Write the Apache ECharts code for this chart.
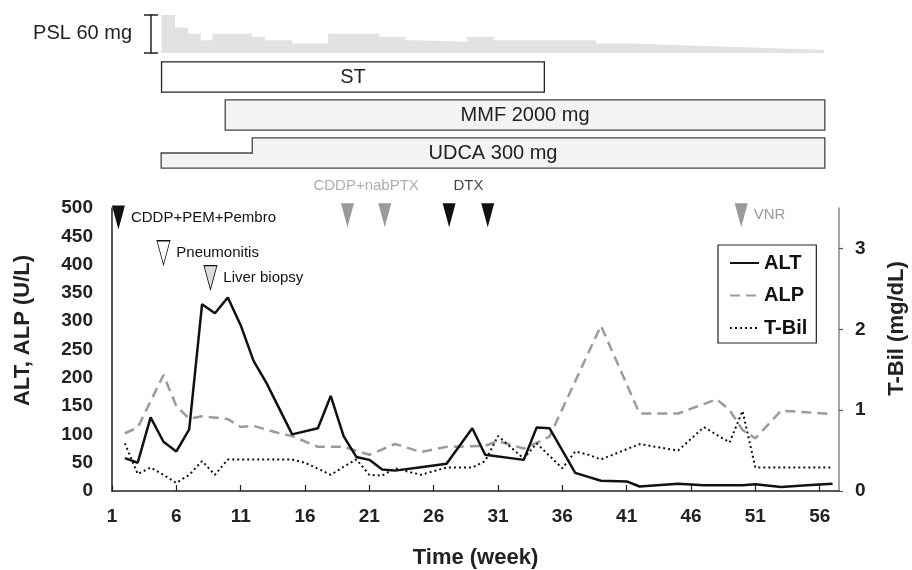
<!DOCTYPE html>
<html>
<head>
<meta charset="utf-8">
<title>ALT, ALP, T-Bil over time</title>
<script src="https://cdn.jsdelivr.net/npm/echarts@6/dist/echarts.min.js"></script>
<style>
html, body { margin: 0; padding: 0; background: #fff; }
#chart { width: 912px; height: 570px; }
</style>
</head>
<body>
<div id="chart"></div>
<script>
// data
var xTicks = [1, 6, 11, 16, 21, 26, 31, 36, 41, 46, 51, 56];
var rightTicks = [0, 1, 2, 3];

var altWeeks = [2, 3, 4, 5, 6, 7, 8, 9, 10, 11, 12, 13, 15, 17, 18, 19, 20, 21, 22, 23, 25, 27, 29, 30, 33, 34, 35, 37, 39, 41, 42, 45, 47, 50, 51, 53, 55, 57];
var altValues = [58, 50, 130, 87, 70, 109, 330, 314, 342, 293, 230, 191, 100, 111, 168, 97, 60, 55, 38, 36, 42, 48, 111, 64, 55, 112, 111, 32, 18, 17, 8, 13, 10, 10, 12, 7, 10, 13];

var alpWeeks = [2, 3, 5, 6, 7, 8, 10, 11, 12, 14, 15, 17, 19, 21, 23, 25, 27, 29, 30, 31, 33, 34, 35, 39, 42, 45, 48, 49, 50, 51, 53, 57];
var alpValues = [102, 112, 205, 150, 128, 132, 127, 113, 115, 102, 97, 78, 78, 64, 83, 69, 78, 79, 80, 88, 75, 85, 96, 292, 137, 137, 162, 143, 108, 93, 142, 136];

var tbilWeeks = [2, 3, 4, 5, 6, 7, 8, 9, 10, 13, 15, 16, 18, 19, 20, 21, 22, 23, 25, 27, 29, 30, 31, 33, 34, 36, 37, 38, 39, 42, 45, 47, 49, 50, 51, 57];
var tbilValues = [0.59, 0.21, 0.29, 0.2, 0.1, 0.2, 0.37, 0.2, 0.39, 0.39, 0.39, 0.35, 0.2, 0.3, 0.39, 0.2, 0.19, 0.28, 0.2, 0.29, 0.29, 0.37, 0.68, 0.4, 0.59, 0.28, 0.49, 0.45, 0.39, 0.58, 0.5, 0.79, 0.6, 0.99, 0.29, 0.29];

// prednisolone dose steps (week where each step begins, dose in mg)
var pslWeeks = [4.85, 5.9, 6.9, 7.9, 8.8, 11.9, 12.9, 15, 17.8, 21.8, 23.8, 24.8, 28.6, 30.7, 38.6, 41.6, 44.5, 48.4, 52.4, 56.35];
var pslDoses = [60, 40, 30, 20, 30, 25, 20, 15, 30, 25, 20, 17.5, 25, 20, 15, 12.5, 10, 7.5, 5];

// treatment bars
var treatNames = ['ST', 'MMF 2000 mg', 'UDCA 300 mg'];
var treatStart = [4.85, 9.8, 4.82];
var treatStep = [4.85, 9.8, 11.9];
var treatEnd = [34.6, 56.4, 56.4];
var treatRow = [0.5, 1.5, 2.5];
var treatFills = ['#ffffff', '#f3f3f3', '#f3f3f3'];

// event markers
var blackWeeks = [1.5, 27.2, 30.2];
var blackLevels = [483, 487, 487];
var blackTexts = ['CDDP+PEM+Pembro', '', ''];
var grayWeeks = [19.3, 22.2, 49.9];
var grayLevels = [487, 487, 487];
var grayTexts = ['', '', 'VNR'];
var openWeeks = [5];
var openLevels = [421];
var openTexts = ['Pneumonitis'];
var lightWeeks = [8.65];
var lightLevels = [377];
var lightTexts = ['Liver biopsy'];
var groupWeeks = [20.75, 28.7];
var groupLevels = [539, 539];
var groupTexts = ['CDDP+nabPTX', 'DTX'];
var groupColors = ['#9a9a9a', '#111111'];

var font = '"Liberation Sans", Arial, Helvetica, sans-serif';

function pairs(xs, ys) {
	return xs.map(function (x, i) { return [x, ys[i]]; });
}
function triples(xs, ys, ts) {
	return xs.map(function (x, i) { return [x, ys[i], ts[i]]; });
}

function markerSeries(name, xs, ys, ts, fill, border, textColor) {
	return {
		name: name,
		type: 'scatter',
		xAxisIndex: 0,
		yAxisIndex: 0,
		clip: false,
		symbol: 'triangle',
		symbolRotate: 180,
		symbolSize: [13, 24],
		itemStyle: { color: fill, borderColor: border || fill, borderWidth: border ? 1 : 0, opacity: 1 },
		label: {
			show: true,
			position: 'right',
			distance: 6,
			color: textColor,
			fontSize: 15,
			fontFamily: font,
			formatter: function (p) { return p.value[2]; }
		},
		silent: true,
		data: triples(xs, ys, ts)
	};
}

function renderTreatment(params, api) {
	var start = api.value(0), end = api.value(1), row = api.value(2), step = api.value(3);
	var half = 0.4;
	var pts;
	if (step > start) {
		pts = [[start, row + half], [start, row], [step, row], [step, row - half], [end, row - half], [end, row + half]];
	} else {
		pts = [[start, row - half], [end, row - half], [end, row + half], [start, row + half]];
	}
	var mid = api.coord([(start + end) / 2, row]);
	var idx = params.dataIndex;
	return {
		type: 'group',
		children: [
			{
				type: 'polygon',
				shape: { points: pts.map(function (p) { return api.coord(p); }) },
				style: { fill: treatFills[idx], stroke: idx === 0 ? '#222' : '#444', lineWidth: 1.3 }
			},
			{
				type: 'text',
				x: mid[0],
				y: mid[1],
				style: {
					text: treatNames[idx],
					fill: '#222',
					font: '20px ' + font,
					align: 'center',
					verticalAlign: 'middle'
				}
			}
		]
	};
}

var myChart = echarts.init(document.getElementById('chart'));
var boldLabel = { fontSize: 19, fontWeight: 'bold', color: '#222', fontFamily: font };
var boldName = { fontSize: 22, fontWeight: 'bold', color: '#222', fontFamily: font };

var option = {
	animation: false,
	backgroundColor: '#ffffff',
	grid: [
		{ left: 112, right: 73, top: 208, bottom: 79, outerBoundsMode: 'none' },
		{ left: 112, right: 73, top: 14.7, height: 38.3, outerBoundsMode: 'none' },
		{ left: 112, right: 73, top: 58, height: 114, outerBoundsMode: 'none' }
	],
	legend: {
		data: ['ALT', 'ALP', 'T-Bil'],
		orient: 'vertical',
		left: 718,
		top: 245,
		padding: [8, 9, 5, 11],
		itemWidth: 29,
		itemHeight: 20,
		itemGap: 12.5,
		borderColor: '#222',
		borderWidth: 1.2,
		selectedMode: false,
		itemStyle: { opacity: 0, borderWidth: 0 },
		textStyle: { fontSize: 20, fontWeight: 'bold', color: '#111', fontFamily: font }
	},
	xAxis: [
		{
			type: 'value',
			gridIndex: 0,
			min: 1,
			max: 57.5,
			axisLine: { onZero: false, lineStyle: { color: '#222', width: 1.5 } },
			axisTick: { inside: true, length: 6, customValues: xTicks, lineStyle: { color: '#222', width: 1.2 } },
			axisLabel: Object.assign({ customValues: xTicks, margin: 16 }, boldLabel),
			splitLine: { show: false },
			name: 'Time (week)',
			nameLocation: 'middle',
			nameGap: 56,
			nameTextStyle: boldName
		},
		{ type: 'value', gridIndex: 1, min: 1, max: 57.5, show: false },
		{ type: 'value', gridIndex: 2, min: 1, max: 57.5, show: false }
	],
	yAxis: [
		{
			type: 'value',
			gridIndex: 0,
			position: 'left',
			min: 0,
			max: 500,
			interval: 50,
			axisLine: { show: true, onZero: false, lineStyle: { color: '#222', width: 1.5 } },
			axisTick: { show: false },
			axisLabel: Object.assign({ margin: 19 }, boldLabel),
			splitLine: { show: false },
			name: 'ALT, ALP (U/L)',
			nameLocation: 'middle',
			nameRotate: 90,
			nameGap: 78,
			nameTextStyle: Object.assign({ padding: [0, 0, 0, 38] }, boldName)
		},
		{
			type: 'value',
			gridIndex: 0,
			position: 'right',
			min: 0,
			max: 3.5,
			axisLine: { show: true, onZero: false, lineStyle: { color: '#888', width: 1.5 } },
			axisTick: { show: true, length: 4, customValues: rightTicks, lineStyle: { color: '#555', width: 1.2 } },
			axisLabel: Object.assign({ customValues: rightTicks, margin: 16 }, boldLabel),
			splitLine: { show: false },
			name: 'T-Bil (mg/dL)',
			nameLocation: 'middle',
			nameRotate: 90,
			nameGap: 47,
			nameTextStyle: Object.assign({ padding: [0, 0, 0, 42] }, boldName)
		},
		{
			type: 'value',
			gridIndex: 1,
			position: 'left',
			offset: -39,
			min: 0,
			max: 60,
			interval: 60,
			axisLine: { show: true, onZero: false, lineStyle: { color: '#222', width: 1.5 } },
			axisTick: { show: true, length: 7, lineStyle: { color: '#222', width: 1.5 } },
			axisLabel: { show: false },
			splitLine: { show: false },
			name: 'PSL 60 mg',
			nameLocation: 'middle',
			nameRotate: 0,
			nameGap: 19,
			nameTextStyle: { fontSize: 20, color: '#222', fontFamily: font }
		},
		{
			type: 'value',
			gridIndex: 1,
			position: 'left',
			offset: -39,
			min: 0,
			max: 60,
			interval: 60,
			axisLine: { show: false },
			axisTick: { show: true, inside: true, length: 7, lineStyle: { color: '#222', width: 1.5 } },
			axisLabel: { show: false },
			splitLine: { show: false }
		},
		{ type: 'value', gridIndex: 2, min: 0, max: 3, inverse: true, show: false }
	],
	series: [
		{
			name: 'PSL',
			type: 'line',
			xAxisIndex: 1,
			yAxisIndex: 2,
			step: 'end',
			symbol: 'none',
			silent: true,
			lineStyle: { width: 0, opacity: 0 },
			areaStyle: { color: '#e2e2e2', opacity: 1 },
			data: pslWeeks.map(function (w, i) { return [w, pslDoses[Math.min(i, pslDoses.length - 1)]]; })
		},
		{
			name: 'Treatment',
			type: 'custom',
			xAxisIndex: 2,
			yAxisIndex: 4,
			silent: true,
			renderItem: renderTreatment,
			encode: { x: [0, 1], y: 2 },
			data: treatStart.map(function (s, i) { return [s, treatEnd[i], treatRow[i], treatStep[i]]; })
		},
		{
			name: 'ALP',
			type: 'line',
			xAxisIndex: 0,
			yAxisIndex: 0,
			symbol: 'none',
			color: '#9b9b9b',
			lineStyle: { color: '#9b9b9b', width: 2.5, type: [10, 6] },
			data: pairs(alpWeeks, alpValues)
		},
		{
			name: 'T-Bil',
			type: 'line',
			xAxisIndex: 0,
			yAxisIndex: 1,
			symbol: 'none',
			color: '#111',
			lineStyle: { color: '#111', width: 2, type: [2, 3] },
			data: pairs(tbilWeeks, tbilValues)
		},
		{
			name: 'ALT',
			type: 'line',
			xAxisIndex: 0,
			yAxisIndex: 0,
			symbol: 'none',
			color: '#111',
			lineStyle: { color: '#111', width: 2.5 },
			data: pairs(altWeeks, altValues)
		},
		markerSeries('black marks', blackWeeks, blackLevels, blackTexts, '#111', null, '#111'),
		markerSeries('gray marks', grayWeeks, grayLevels, grayTexts, '#9a9a9a', null, '#9a9a9a'),
		markerSeries('open marks', openWeeks, openLevels, openTexts, '#ffffff', '#111', '#111'),
		markerSeries('light marks', lightWeeks, lightLevels, lightTexts, '#dcdcdc', '#111', '#111'),
		{
			name: 'group labels',
			type: 'scatter',
			xAxisIndex: 0,
			yAxisIndex: 0,
			clip: false,
			symbolSize: 0,
			silent: true,
			label: {
				show: true,
				position: 'inside',
				fontSize: 15,
				fontFamily: font,
				formatter: function (p) { return p.value[2]; }
			},
			data: groupWeeks.map(function (w, i) {
				return { value: [w, groupLevels[i], groupTexts[i]], label: { color: groupColors[i] } };
			})
		}
	]
};
myChart.setOption(option);
</script>
</body>
</html>
